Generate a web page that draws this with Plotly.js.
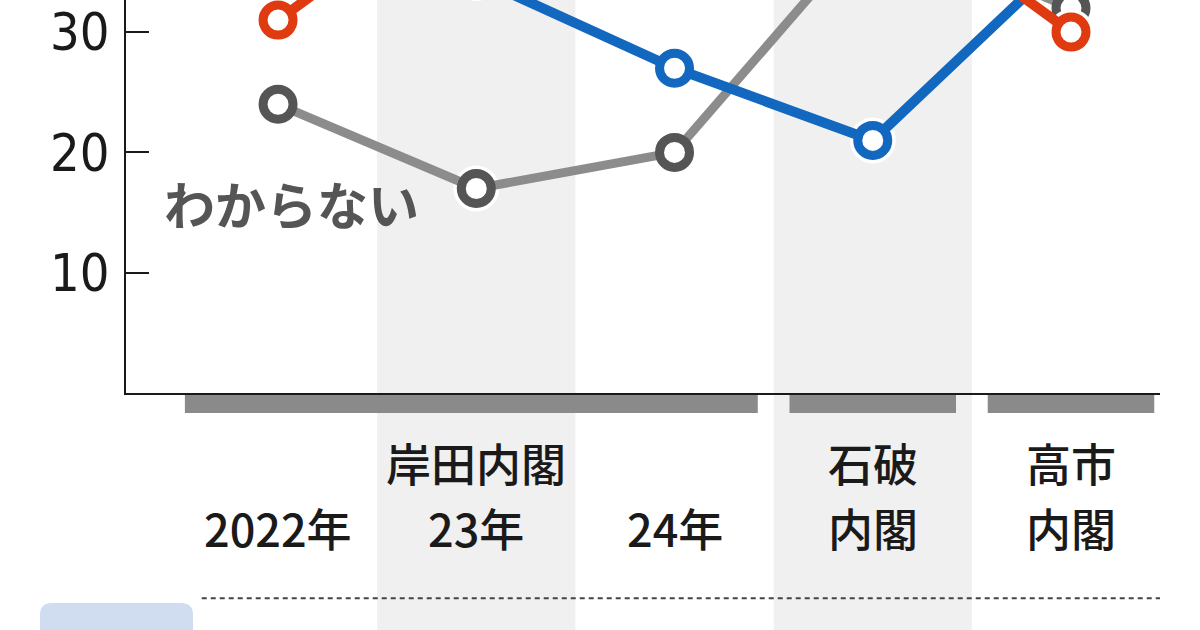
<!DOCTYPE html>
<html>
<head>
<meta charset="utf-8">
<script src="https://cdn.plot.ly/plotly-3.0.1.min.js"></script>
<style>
html,body{margin:0;padding:0;background:#fff;}
#chart{width:1200px;height:630px;}
</style>
</head>
<body>
<div id="chart"></div>
<script>
// ---- data ----
var xIndex = [0, 1, 2, 3, 4];
var labelTop = ['', '岸田内閣', '', '石破', '高市'];
var labelBottom = ['2022年', '23年', '24年', '内閣', '内閣'];
var seriesRed = [31, 43, 40, 42, 30];
var seriesBlue = [38, 34.5, 27, 21, 36.6];
var seriesGray = [24, 17, 20, 39, 32];
var grayName = 'わからない';
var yTicks = [10, 20, 30];
var yTickText = ['10', '20', '30'];
// shaded periods (index ranges) and cabinet bars
var bandRanges = [[0.5, 1.5], [2.5, 3.5]];
var cabinetBars = [[-0.47, 2.42], [2.58, 3.42], [3.58, 4.42]];

// ---- styles ----
var RED = '#e03a10', BLUE = '#1267bf', GRAY_LINE = '#8c8c8c', GRAY_MK = '#555555';
var JP = '"Noto Sans CJK JP", "Noto Sans", sans-serif';
var NUM = '"Liberation Sans Narrow", "DejaVu Sans Condensed", sans-serif';

function halo(y) {
  return {x: xIndex, y: y, mode: 'markers', type: 'scatter', hoverinfo: 'skip',
    marker: {size: 46, color: '#ffffff', line: {width: 0}}, showlegend: false};
}
function series(y, lineColor, mkColor, lw) {
  return {x: xIndex, y: y, mode: 'lines+markers', type: 'scatter', showlegend: false,
    line: {color: lineColor, width: lw},
    marker: {size: 30, color: '#ffffff', line: {color: mkColor, width: 9}}};
}

var traces = [
  halo(seriesGray), series(seriesGray, GRAY_LINE, GRAY_MK, 9),
  halo(seriesBlue), series(seriesBlue, BLUE, BLUE, 10),
  halo(seriesRed), series(seriesRed, RED, RED, 10)
];

var shapes = [];
bandRanges.forEach(function (b) {
  shapes.push({type: 'rect', xref: 'x', yref: 'paper', x0: b[0], x1: b[1], y0: -0.75, y1: 1.1,
    fillcolor: '#f0f0f0', line: {width: 0}, layer: 'below'});
});
cabinetBars.forEach(function (b) {
  shapes.push({type: 'rect', xref: 'x', yref: 'paper', x0: b[0], x1: b[1], y0: -0.051, y1: -0.005,
    fillcolor: '#8a8a8a', line: {width: 0}, layer: 'below'});
});
// dotted separator
shapes.push({type: 'line', xref: 'x', yref: 'paper', x0: -0.385, x1: 4.45, y0: -0.522, y1: -0.522,
  line: {color: '#444', width: 2, dash: '5px,4px'}, layer: 'above'});
// light blue rounded box at bottom-left (paper coords)
(function () {
  var px = function (v) { return (v - 126) / 1034; };
  var py = function (v) { return (393 - v) / 393; };
  var x0 = px(40), x1 = px(193), y0 = py(603), y1 = py(660), rx = 12 / 1034, ry = 12 / 393;
  var p = 'M' + x0 + ',' + y1 + ' L' + x0 + ',' + (y0 - ry) +
    ' Q' + x0 + ',' + y0 + ' ' + (x0 + rx) + ',' + y0 +
    ' L' + (x1 - rx) + ',' + y0 +
    ' Q' + x1 + ',' + y0 + ' ' + x1 + ',' + (y0 - ry) +
    ' L' + x1 + ',' + y1 + ' Z';
  shapes.push({type: 'path', xref: 'paper', yref: 'paper', path: p,
    fillcolor: '#d0dcef', line: {width: 0}, layer: 'below'});
})();

var labelFont = {family: JP, size: 45, color: '#1a1a1a', weight: 500};
var annotations = [];
xIndex.forEach(function (xi, i) {
  if (labelTop[i]) annotations.push({x: xi, y: -0.1756, xref: 'x', yref: 'paper', text: labelTop[i],
    showarrow: false, xanchor: 'center', yanchor: 'middle', borderpad: 0, font: labelFont});
  if (labelBottom[i]) annotations.push({x: xi, y: -0.3435, xref: 'x', yref: 'paper', text: labelBottom[i],
    showarrow: false, xanchor: 'center', yanchor: 'middle', borderpad: 0, font: labelFont});
});
annotations.push({x: 0.07, y: 15.8, xref: 'x', yref: 'y', text: grayName, showarrow: false,
  xanchor: 'center', yanchor: 'middle', font: {family: JP, size: 51, color: '#555555', weight: 700}});

var layout = {
  width: 1200, height: 630,
  margin: {l: 126, r: 40, t: 0, b: 237, pad: 0},
  paper_bgcolor: '#ffffff', plot_bgcolor: 'rgba(0,0,0,0)',
  showlegend: false,
  xaxis: {range: [-0.767, 4.449], showgrid: false, zeroline: false, showticklabels: false,
    ticks: '', showline: true, linecolor: '#1a1a1a', linewidth: 2, fixedrange: true},
  yaxis: {range: [0, 32.67], showgrid: false, zeroline: false, showline: true,
    linecolor: '#1a1a1a', linewidth: 2, ticks: 'inside', ticklen: 23, tickwidth: 2, tickcolor: '#1a1a1a',
    tickvals: yTicks, ticktext: yTickText, ticklabelstandoff: 4,
    tickfont: {family: NUM, size: 52, color: '#1a1a1a'}, fixedrange: true},
  shapes: shapes,
  annotations: annotations
};

Plotly.newPlot('chart', traces, layout, {displayModeBar: false, staticPlot: true});
</script>
</body>
</html>
